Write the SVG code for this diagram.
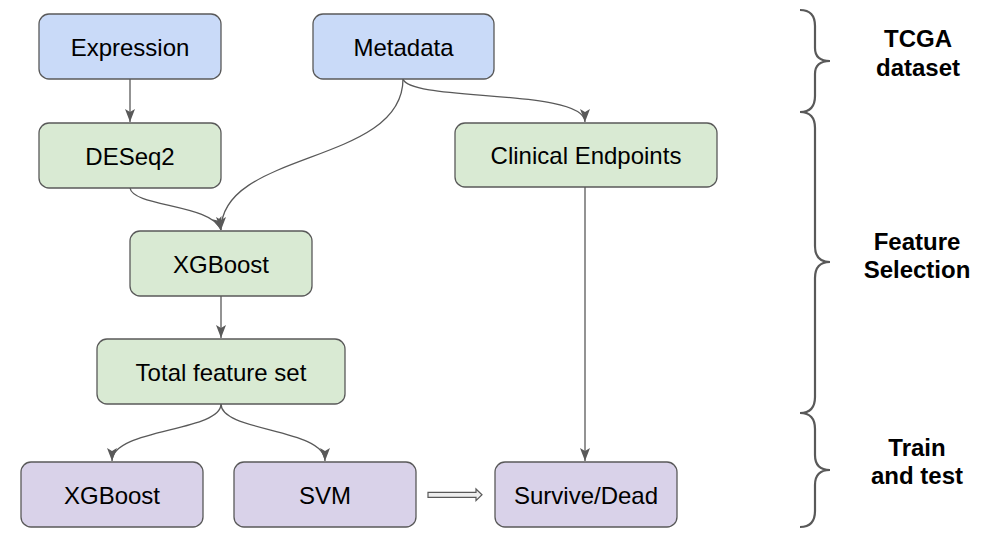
<svg xmlns="http://www.w3.org/2000/svg" width="1006" height="542" viewBox="0 0 1006 542">
<style>
.n rect{stroke:#595959;stroke-width:1.3}
.blue{fill:#c9daf8}.green{fill:#d9ead3}.purple{fill:#d9d2e9}
.t{font-family:"Liberation Sans",Arial,sans-serif;font-size:24px;fill:#000;text-anchor:middle}
.b{font-family:"Liberation Sans",Arial,sans-serif;font-size:24px;font-weight:bold;fill:#000;text-anchor:middle}
.c path{fill:none;stroke:#595959;stroke-width:1.3}
.brace{fill:none;stroke:#595959;stroke-width:2.2}
</style>
<defs>
<marker id="ah" markerUnits="userSpaceOnUse" markerWidth="14" markerHeight="12" viewBox="0 0 14 12" refX="13" refY="6" orient="auto">
<path d="M0,1 L13,6 L0,11 L3,6 Z" fill="#595959"/>
</marker>
</defs>
<rect width="1006" height="542" fill="#fff"/>
<g class="c" id="connectors">
<path d="M130,79 V122" marker-end="url(#ah)"/>
<path d="M130,188 C133,207 212,204 221,230" marker-end="url(#ah)"/>
<path d="M403,79 C403,165 221,150 221,230" marker-end="url(#ah)"/>
<path d="M403,79 C410,102 585,88 585,122" marker-end="url(#ah)"/>
<path d="M585,187 V461" marker-end="url(#ah)"/>
<path d="M221,296 V338" marker-end="url(#ah)"/>
<path d="M221,404 C221,432 112,428 112,461" marker-end="url(#ah)"/>
<path d="M221,404 C221,432 325,428 325,461" marker-end="url(#ah)"/>
<polygon points="428,492.3 476,492.3 476,489 482,494.8 476,500.6 476,497.3 428,497.3" style="fill:#eeeeee;stroke:#595959;stroke-width:1.2"/>
</g>
<g class="n" id="expression"><rect class="blue" x="39" y="14" width="182" height="65" rx="10"/><text class="t" x="130" y="55.5">Expression</text></g>
<g class="n" id="metadata"><rect class="blue" x="313" y="14" width="181" height="65" rx="10"/><text class="t" x="403.5" y="55.5">Metadata</text></g>
<g class="n" id="deseq2"><rect class="green" x="39" y="123" width="182" height="65" rx="10"/><text class="t" x="130" y="164.5">DESeq2</text></g>
<g class="n" id="clinical"><rect class="green" x="455" y="123" width="262" height="64" rx="10"/><text class="t" x="586" y="164">Clinical Endpoints</text></g>
<g class="n" id="xgboost1"><rect class="green" x="130" y="231" width="182" height="65" rx="10"/><text class="t" x="221" y="272.5">XGBoost</text></g>
<g class="n" id="total"><rect class="green" x="97" y="339" width="248" height="65" rx="10"/><text class="t" x="221" y="380.5">Total feature set</text></g>
<g class="n" id="xgboost2"><rect class="purple" x="21" y="462" width="182" height="65" rx="10"/><text class="t" x="112" y="503.5">XGBoost</text></g>
<g class="n" id="svm"><rect class="purple" x="234" y="462" width="182" height="65" rx="10"/><text class="t" x="325" y="503.5">SVM</text></g>
<g class="n" id="survive"><rect class="purple" x="495" y="462" width="182" height="65" rx="10"/><text class="t" x="586" y="503.5">Survive/Dead</text></g>
<g id="braces">
<path class="brace" d="M800,10 C810,10 815,16 815,26 L815,48 C815,57 820,61 830,61 C820,61 815,65 815,74 L815,96 C815,106 810,112 800,112"/>
<path class="brace" d="M800,112 C810,112 815,118 815,128 L815,246 C815,256 820,262 830,262 C820,262 815,268 815,278 L815,397 C815,407 810,413 800,413"/>
<path class="brace" d="M800,413 C810,413 815,419 815,429 L815,455 C815,465 820,470 830,470 C820,470 815,475 815,485 L815,511 C815,521 810,527 800,527"/>
</g>
<g id="labels">
<text class="b" x="918" y="46.5">TCGA</text><text class="b" x="918" y="75.5">dataset</text>
<text class="b" x="917" y="249.5">Feature</text><text class="b" x="917" y="277.5">Selection</text>
<text class="b" x="917" y="455.5">Train</text><text class="b" x="917" y="483.5">and test</text>
</g>
</svg>
